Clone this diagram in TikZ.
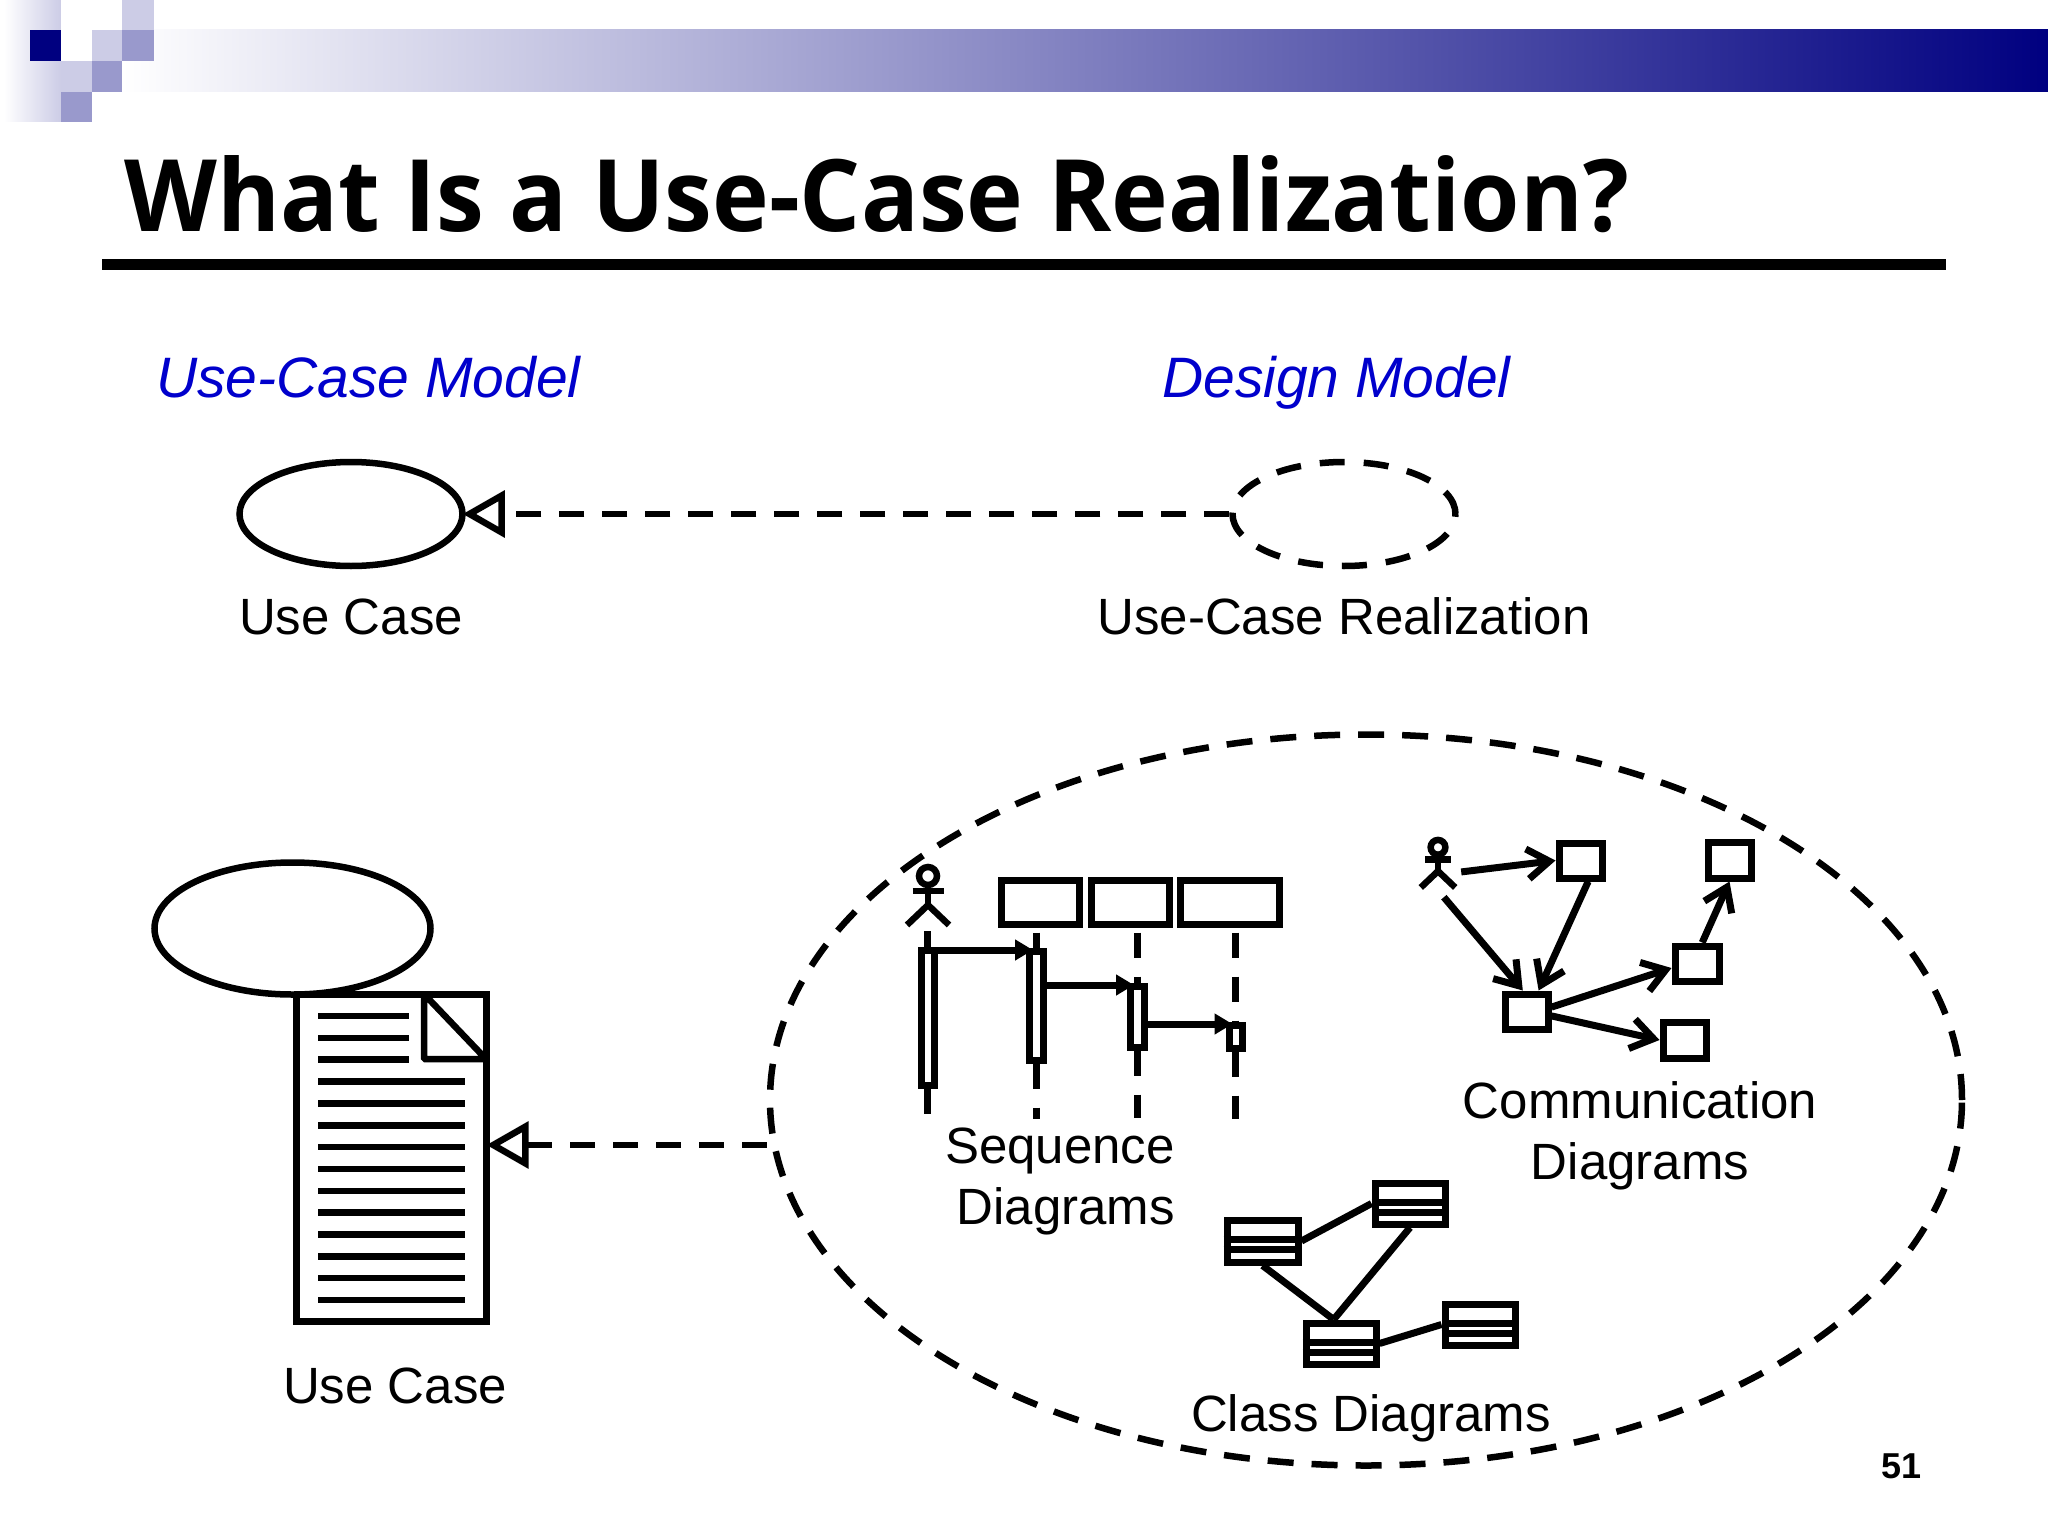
\documentclass[tikz,border=0pt]{standalone}
\usepackage{fontspec}
\setmainfont{Liberation Sans}
\newfontfamily\titlefont[FakeStretch=0.96]{Open Sans}
\usetikzlibrary{positioning,shapes.geometric,arrows.meta}

\definecolor{navybar}{RGB}{0,0,128}
\definecolor{squarelight}{RGB}{204,204,230}
\definecolor{squaremid}{RGB}{153,153,204}
\definecolor{modelblue}{RGB}{0,0,204}

\tikzset{
	x=1pt, y=-1pt,
	label text/.style={inner sep=0, font=\fontsize{51}{61}\selectfont},
	model text/.style={inner sep=0, anchor=base west, text=modelblue, font=\fontsize{57}{66}\selectfont\itshape},
	usecase/.style={ellipse, draw, line width=6.5pt, inner sep=0, minimum width=223, minimum height=104},
	smallbox/.style={rectangle, draw, fill=white, line width=7pt, inner sep=0},
	realize/.style={line width=6.5pt, dash pattern=on 25pt off 18pt, -{Triangle[open,length=42pt,width=46pt]}, shorten >=-3pt},
	lifeline/.style={line width=7pt, dash pattern=on 25pt off 19pt},
	message/.style={line width=7pt, -{Triangle[length=18pt,width=20pt]}, shorten >=3pt, transform canvas={yshift=-2.5pt}},
	link/.style={line width=7pt, -{Straight Barb[length=22pt,width=30pt]}},
	assoc/.style={line width=7pt},
	stickman/.pic={
		\draw[line width=6.5pt] (0,-24) circle (9);
		\draw[line width=6.5pt] (0,-15) -- (0,5) (-15.5,-9) -- (15.5,-9);
		\draw[line width=6.5pt] (-21,25) -- (0,5) -- (21,25);
	}
}

\begin{document}
\begin{tikzpicture}
	\useasboundingbox (0,0) rectangle (2048,1536);

	% header
	\fill[left color=white, right color=navybar] (122,30) rectangle (2048,92);
	\fill[left color=white, right color=squarelight] (4,0) rectangle (61,122);
	\fill[white] (61,0) rectangle (122,30);
	\fill[white] (61,30) rectangle (92,61);
	\fill[white] (92,92) rectangle (122,122);
	\fill[navybar] (30,30) rectangle (61,61);
	\fill[squarelight] (122,0) rectangle (154,30);
	\fill[squarelight] (92,30) rectangle (122,61);
	\fill[squaremid] (122,30) rectangle (154,61);
	\fill[squarelight] (61,61) rectangle (92,92);
	\fill[squaremid] (92,61) rectangle (122,92);
	\fill[squaremid] (61,92) rectangle (92,122);

	\node [inner sep=0, anchor=base west, font=\titlefont\bfseries\fontsize{100}{120}\selectfont] (title) at (124,231) {What Is a Use-Case Realization?};
	\fill (102,259) rectangle (1946,270);
	\node [model text] (ucm) at (156,397) {Use-Case Model};
	\node [model text] (dm) at (1162,397) {Design Model};

	% top row
	\node [usecase] (uc) at (351,514) {};
	\node [usecase, dash pattern=on 25pt off 19pt] (ucr) at (1344,514) {};
	\node [label text, below=29pt of uc] (uclabel) {Use Case};
	\node [label text, below=28pt of ucr] (ucrlabel) {Use-Case Realization};
	\draw[realize] (ucr) -- (uc);

	% document
	\node [rectangle, draw, line width=7pt, inner sep=0, minimum width=190, minimum height=327] (doc) at (391,1157.5) {};
	\draw[line width=6.5pt, line join=bevel] (486,1059) -- (424,1059) -- (424,994) -- cycle;
	\foreach \i in {0,1,2}
		\draw[line width=6.5pt] (318,1016+21.85*\i) -- (409,1016+21.85*\i);
	\foreach \i in {3,...,13}
		\draw[line width=6.5pt] (318,1016+21.85*\i) -- (465,1016+21.85*\i);
	\node [usecase, fill=white, minimum width=276, minimum height=132] (uc2) at (292.5,928.5) {};
	\node [label text, below=43pt of doc, xshift=4pt] (doclabel) {Use Case};

	% big realization
	\node [ellipse, draw, line width=6.5pt, inner sep=0, dash pattern=on 26pt off 18pt, minimum width=1192, minimum height=731] (big) at (1366,1100) {};
	\coordinate (doctip) at (doc.east |- 0,1145);
	\draw[realize] (big.west |- doctip) -- (doctip);

	% sequence
	\node [inner sep=0, minimum width=50, minimum height=62] (actA) at (928,900) {};
	\pic at (actA) {stickman};
	\node [smallbox, minimum width=78, minimum height=44] (boxA) at (1040.5,902) {};
	\node [smallbox, minimum width=78, minimum height=44, right=5pt of boxA] (boxB) {};
	\node [smallbox, minimum width=99, minimum height=44, right=4pt of boxB] (boxC) {};
	\node [smallbox, minimum width=13, minimum height=135] (barA) at (927.5,1017.5) {};
	\node [smallbox, minimum width=14, minimum height=109] (barB) at (1036,1005.5) {};
	\node [smallbox, minimum width=14, minimum height=61] (barC) at (1137,1016.5) {};
	\node [smallbox, minimum width=13, minimum height=23] (barD) at (1235.5,1036.5) {};
	\draw[lifeline] (barA.north |- actA.south) -- (barA.north);
	\foreach \b/\h in {barB/boxA,barC/boxB,barD/boxC}
		\draw[lifeline] ([yshift=-5pt]\b.north |- \h.south) -- (\b.north);
	\foreach \b/\l in {barA/25,barB/55,barC/67,barD/67}
		\draw[lifeline] (\b.south) -- ++(0,\l);
	\draw[message] (barA.east |- barB.north) -- (barB.north);
	\draw[message] (barB.east |- barC.north) -- (barC.north);
	\draw[message] (barC.east |- barD.north) -- (barD.north);
	\node [label text, align=right] (seqlabel) at (1060,1181) {Sequence\\Diagrams};

	% communication
	\node [inner sep=0, minimum width=46, minimum height=60] (actC) at (1438,867) {};
	\pic[scale=.82] at (actC) {stickman};
	\node [smallbox, minimum width=43, minimum height=35] (comA) at (1580.5,860.5) {};
	\node [smallbox, minimum width=43, minimum height=36] (comB) at (1729.5,860) {};
	\node [smallbox, minimum width=43, minimum height=35] (comC) at (1526.5,1011.5) {};
	\node [smallbox, minimum width=44, minimum height=35] (comD) at (1697,963.5) {};
	\node [smallbox, minimum width=43, minimum height=36] (comE) at (1684.5,1040) {};
	\draw[link] (actC.-12) -- (comA.west);
	\draw[link] (actC.-79) -- (comC.100);
	\draw[link] (comA.-70) -- (comC.60);
	\draw[link] (comC.10) -- (comD.190);
	\draw[link] (comC.-10) -- (comE.west);
	\draw[link] (comD.76) -- (comB.south);
	\node [label text, align=center] (comlabel) at (1640,1136) {Communication\\Diagrams};

	% class
	\node [smallbox, minimum width=71, minimum height=42] (clsA) at (1262.5,1241) {};
	\node [smallbox, minimum width=70, minimum height=41] (clsB) at (1410,1203.5) {};
	\node [smallbox, minimum width=70, minimum height=41] (clsC) at (1341,1343.5) {};
	\node [smallbox, minimum width=70, minimum height=41] (clsD) at (1480,1324.5) {};
	\foreach \c in {clsA,clsB,clsC,clsD} {
		\draw[assoc] ([yshift=-22.5pt]\c.north west) -- ([yshift=-22.5pt]\c.north east);
		\draw[assoc] ([yshift=-33pt]\c.north west) -- ([yshift=-33pt]\c.north east);
	}
	\draw[assoc] (clsA.east) -- (clsB.west);
	\draw[assoc] (clsA.south) -- (clsC.107);
	\draw[assoc] (clsB.south) -- (clsC.107);
	\draw[assoc] (clsC.east) -- (clsD.west);
	\node [label text, anchor=base] (clslabel) at (1371,1431) {Class Diagrams};

	\node [inner sep=0, anchor=base, font=\bfseries\fontsize{36}{40}\selectfont] (page) at (1901,1478) {51};
\end{tikzpicture}
\end{document}
